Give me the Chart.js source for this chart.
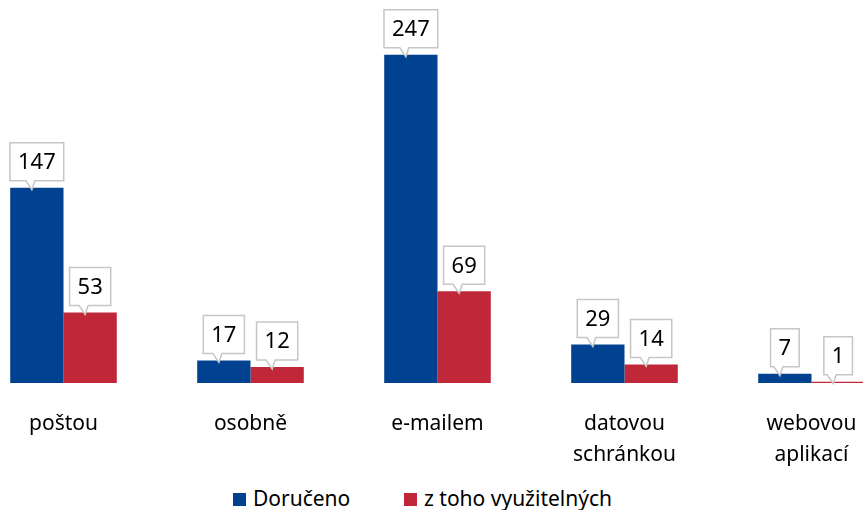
<!DOCTYPE html>
<html>
<head>
<meta charset="utf-8">
<script src="https://cdn.jsdelivr.net/npm/chart.js@4"></script>
<style>
  body { margin: 0; background: #fff; font-family: "Noto Sans", sans-serif; }
  #wrap { position: relative; width: 863px; height: 510px; overflow: hidden; }
  #chart { position: absolute; left: -30px; top: 0; }
  .leg { position: absolute; top: 484px; font-size: 21px; line-height: 28px; color: #000; white-space: nowrap; }
  .leg i { display: inline-block; width: 13px; height: 13px; margin-right: 7px; vertical-align: 0px; }
</style>
</head>
<body>
<div id="wrap">
  <canvas id="chart" width="935" height="470"></canvas>
  <div class="leg" style="left:233px"><i style="background:#00428f"></i>Doručeno</div>
  <div class="leg" style="left:404px"><i style="background:#c0283a"></i>z toho využitelných</div>
</div>
<script>
// data
const categories = ['poštou', 'osobně', 'e-mailem', ['datovou', 'schránkou'], ['webovou', 'aplikací']];
const doruceno = [147, 17, 247, 29, 7];
const vyuzitelnych = [53, 12, 69, 14, 1];
const seriesNames = ['Doručeno', 'z toho využitelných'];
const colors = ['#00428f', '#c0283a'];

// callout labels above the bars
const calloutPlugin = {
    id: 'callouts',
    afterDatasetsDraw(chart) {
        const ctx = chart.ctx;
        ctx.save();
        ctx.font = '22px "Noto Sans"';
        ctx.textAlign = 'center';
        ctx.textBaseline = 'middle';
        chart.data.datasets.forEach((ds, di) => {
            chart.getDatasetMeta(di).data.forEach((bar, i) => {
                const txt = String(ds.data[i]);
                const w = ctx.measureText(txt).width + 16;
                const h = 38;
                const cx = bar.x, bottom = bar.y - 7, top = bottom - h;
                const left = cx - w / 2;
                ctx.beginPath();
                ctx.moveTo(left, top);
                ctx.lineTo(left + w, top);
                ctx.lineTo(left + w, bottom);
                ctx.lineTo(cx - 2, bottom);
                ctx.lineTo(cx - 5, bar.y + 2);
                ctx.lineTo(cx - 11, bottom);
                ctx.lineTo(left, bottom);
                ctx.closePath();
                ctx.fillStyle = '#fff';
                ctx.fill();
                ctx.strokeStyle = '#c6c6c6';
                ctx.lineWidth = 1.5;
                ctx.stroke();
                ctx.fillStyle = '#000';
                ctx.fillText(txt, cx, top + h / 2 + 1);
            });
        });
        ctx.restore();
    }
};

new Chart(document.getElementById('chart'), {
    type: 'bar',
    data: {
        labels: categories,
        datasets: [
            { label: seriesNames[0], data: doruceno, backgroundColor: colors[0] },
            { label: seriesNames[1], data: vyuzitelnych, backgroundColor: colors[1] }
        ]
    },
    options: {
        responsive: false,
        animation: false,
        layout: { padding: { top: 11, left: 0, right: 0, bottom: 0 } },
        datasets: { bar: { categoryPercentage: 0.57, barPercentage: 1.0 } },
        plugins: { legend: { display: false }, tooltip: { enabled: false } },
        scales: {
            x: {
                grid: { display: false },
                border: { display: false },
                ticks: { color: '#000', padding: 17, maxRotation: 0, font: { family: 'Noto Sans', size: 21, lineHeight: 1.5 } },
                afterFit: s => { s.height = 87; }
            },
            y: { display: false, min: 0, max: 280 }
        }
    },
    plugins: [calloutPlugin]
});
</script>
</body>
</html>
